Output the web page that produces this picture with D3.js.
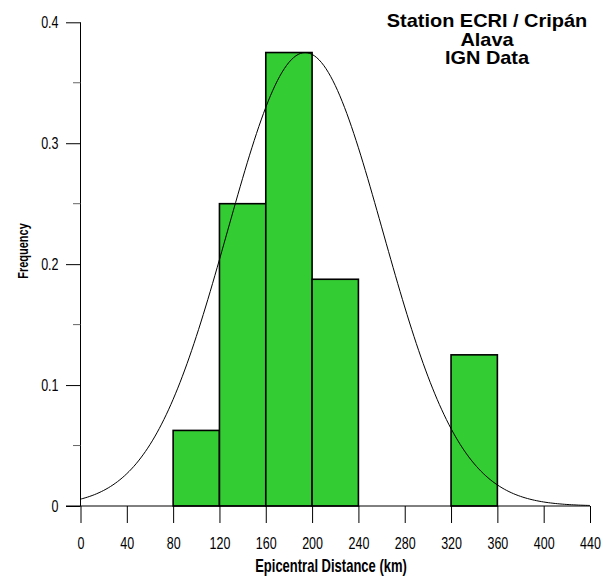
<!DOCTYPE html>
<html>
<head>
<meta charset="utf-8">
<script src="https://cdn.jsdelivr.net/npm/d3@7"></script>
<style>
  html, body { margin: 0; padding: 0; background: #fff; }
  svg { display: block; }
  text { font-family: "Liberation Sans", Arial, sans-serif; fill: #000; }
</style>
</head>
<body>
<svg id="chart" width="603" height="578"></svg>
<script>
// ---- data ----
const binLo = [80, 120, 160, 200, 320];
const binHi = [120, 160, 200, 240, 360];
const freq = [0.0625, 0.25, 0.375, 0.1875, 0.125];
const xTicks = [0, 40, 80, 120, 160, 200, 240, 280, 320, 360, 400, 440];
const yTicks = [0, 0.1, 0.2, 0.3, 0.4];
const yMinorTicks = [0.05, 0.15, 0.25, 0.35];
// fitted normal curve parameters
const fitMean = 194;
const fitSd = 67;
const fitPeak = 0.375;
const titleLines = ["Station ECRI / Cripán", "Alava", "IGN Data"];
const xTitle = "Epicentral Distance (km)";
const yTitle = "Frequency";

const svg = d3.select("#chart");
const x = d3.scaleLinear().domain([0, 440]).range([80.5, 590]);
const y = d3.scaleLinear().domain([0, 0.4]).range([506, 22.3]);

// bars
svg.append("g").selectAll("rect")
  .data(freq.map((f, i) => ({ lo: binLo[i], hi: binHi[i], f })))
  .join("rect")
  .attr("x", d => x(d.lo))
  .attr("y", d => y(d.f))
  .attr("width", d => x(d.hi) - x(d.lo))
  .attr("height", d => y(0) - y(d.f))
  .attr("fill", "#33cc33")
  .attr("stroke", "#000")
  .attr("stroke-width", 1.6);

// normal curve
const curvePts = d3.range(0, 440.5, 2).map(v => [v, fitPeak * Math.exp(-((v - fitMean) ** 2) / (2 * fitSd * fitSd))]);
svg.append("path")
  .datum(curvePts)
  .attr("fill", "none")
  .attr("stroke", "#000")
  .attr("stroke-width", 1)
  .attr("d", d3.line().x(d => x(d[0])).y(d => y(d[1])).curve(d3.curveBasis));

// y axis
const yAxis = d3.axisLeft(y).tickValues(yTicks).tickSize(14.5).tickSizeOuter(0)
  .tickFormat(d => d === 0 ? "0" : d3.format(".1f")(d));
const gy = svg.append("g").attr("transform", `translate(${x(0)},0)`).call(yAxis);
gy.select(".domain").attr("stroke", "#000").attr("d", `M0,${y(0.4)}V${y(0)}`);
gy.selectAll(".tick line").attr("stroke", "#000");
gy.selectAll(".tick text").remove();
gy.selectAll(".tick").append("g")
  .attr("transform", "translate(-22,0) scale(1,1.25)")
  .append("text")
  .attr("text-anchor", "end")
  .attr("dy", "0.36em")
  .style("font-size", "12.5px")
  .text(d => d === 0 ? "0" : d3.format(".1f")(d));
svg.append("g").selectAll("line").data(yMinorTicks).join("line")
  .attr("x1", x(0) - 7.5).attr("x2", x(0))
  .attr("y1", d => y(d)).attr("y2", d => y(d))
  .attr("stroke", "#666");

// x axis
const xAxis = d3.axisBottom(x).tickValues(xTicks).tickSize(17).tickSizeOuter(0);
const gx = svg.append("g").attr("transform", `translate(0,${y(0)})`).call(xAxis);
gx.select(".domain").attr("stroke", "#000").attr("d", `M66,0H${x(440)}`);
gx.selectAll(".tick line").attr("stroke", "#000");
gx.selectAll(".tick text").remove();
gx.selectAll(".tick").append("g")
  .attr("transform", "translate(0,43) scale(1,1.25)")
  .append("text")
  .attr("text-anchor", "middle")
  .style("font-size", "12.5px")
  .text(d => d);

// axis titles
svg.append("g")
  .attr("transform", "translate(331,571.5) scale(1,1.35)")
  .append("text")
  .attr("text-anchor", "middle")
  .style("font-size", "13px")
  .style("font-weight", "bold")
  .text(xTitle);

svg.append("g")
  .attr("transform", "translate(27.5,251) rotate(-90) scale(1,1.35)")
  .append("text")
  .attr("text-anchor", "middle")
  .style("font-size", "11px")
  .style("font-weight", "bold")
  .text(yTitle);

// title
svg.append("g").selectAll("g").data(titleLines).join("g")
  .attr("transform", (d, i) => `translate(487,${27 + i * 18.5}) scale(1.14,1)`)
  .append("text")
  .attr("text-anchor", "middle")
  .style("font-size", "17.5px")
  .style("font-weight", "bold")
  .text(d => d);
</script>
</body>
</html>
